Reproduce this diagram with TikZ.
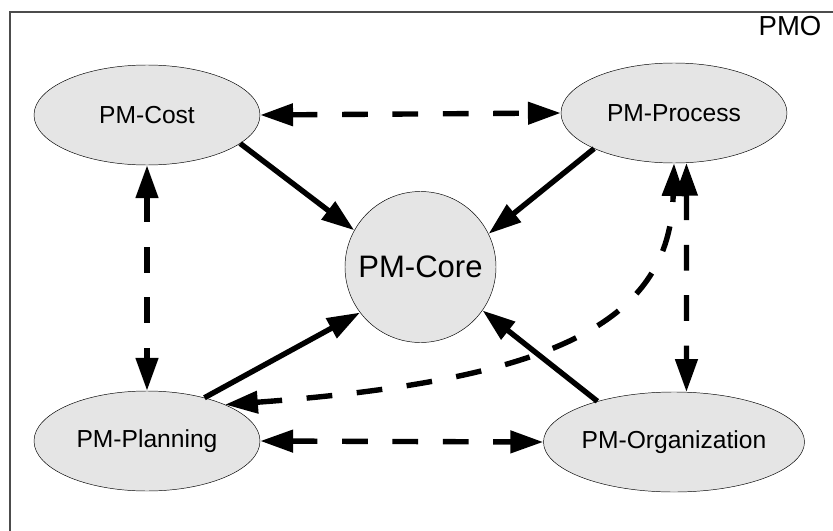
\documentclass[tikz,border=0pt]{standalone}
\usepackage{fontspec}
\setmainfont{Liberation Sans}
\usepackage{tikz}
\usetikzlibrary{arrows.meta,shapes.geometric}

\begin{document}
\begin{tikzpicture}[
  x=0.03cm, y=-0.03cm,
  every node/.style={font=\fontsize{21}{25}\selectfont},
  module/.style={ellipse, draw=black, thin, fill=gray!20, inner sep=0pt,
                 minimum width=6.78cm, minimum height=3.0cm},
  coremod/.style={circle, draw=black, thin, fill=gray!20, inner sep=0pt,
                  minimum size=4.53cm, font=\fontsize{26.5}{31}\selectfont},
  uses/.style={line width=4.6pt, -{Triangle[length=28pt, width=18.5pt]}},
  links/.style={line width=4.6pt, dash pattern=on 22pt off 21pt,
                {Triangle[length=28pt, width=18.5pt]}-{Triangle[length=28pt, width=18.5pt]}},
]
\useasboundingbox (0,0) rectangle (833,531);

%% ── Frame ──────────────────────────────────────────────────────────────────
\draw[black!70, line width=0.9pt] (10,531) -- (10,12) -- (833,12);
\node[font=\fontsize{23.5}{28}\selectfont] (pmo) at (790,26) {PMO};

%% ── Modules ────────────────────────────────────────────────────────────────
\node[module]  (cost)     at (147,115) {PM-Cost};
\node[module]  (process)  at (674,113) {PM-Process};
\node[coremod] (core)     at (420.5,267) {PM-Core};
\node[module]  (planning) at (147,441) {PM-Planning};
\node[module]  (org)      at (674,442) {PM-Organization};

%% ── Dependencies on the core ───────────────────────────────────────────────
\draw[uses] (cost.-17)     -- (core.151);
\draw[uses] (process.204)  -- (core.26);
\draw[uses] (planning.37)  -- (core.217);
\draw[uses] (org.152)      -- (core.-35);

%% ── Links between modules ──────────────────────────────────────────────────
\draw[links] (cost.east)     -- (process.west);
\draw[links] (cost.south)    -- (planning.north);
\draw[links] (planning.east) -- (org.west);
\draw[links] (process.-76)   -- (org.76);
\draw[links] (planning.25) .. controls (560,380) and (670,320) .. (process.south);

\end{tikzpicture}
\end{document}
